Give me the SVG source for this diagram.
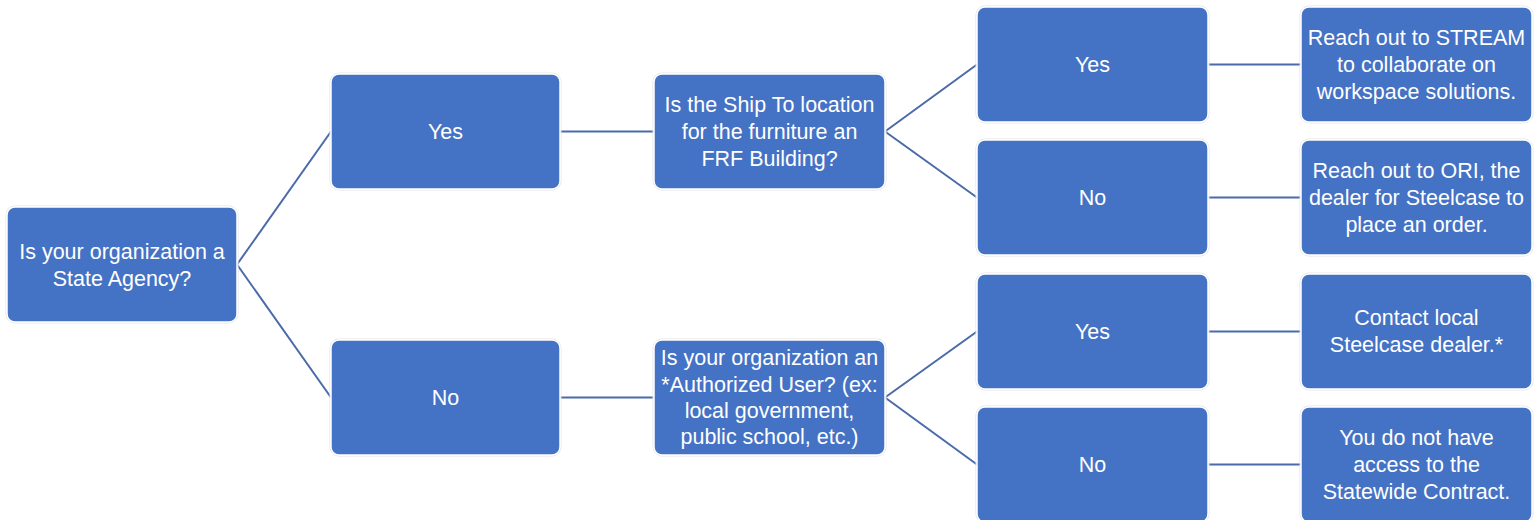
<svg xmlns="http://www.w3.org/2000/svg" width="1536" height="520" viewBox="0 0 1536 520">
<style>
.box{fill:#4472C4;stroke:#ffffff;stroke-width:1.5}
.edge{fill:none;stroke:#e3e3e3;stroke-width:1}
.t{font-family:"Liberation Sans",Arial,sans-serif;font-size:21.5px;fill:#ffffff;text-anchor:middle}
.c{stroke:#4A6AAA;stroke-width:2;fill:none}
</style>
<rect width="1536" height="520" fill="#ffffff"/>
<g id="connectors">
<line class="c" x1="237" y1="264.5" x2="331" y2="131.5"/>
<line class="c" x1="237" y1="264.5" x2="331" y2="397.5"/>
<line class="c" x1="560" y1="131.5" x2="654" y2="131.5"/>
<line class="c" x1="560" y1="397.5" x2="654" y2="397.5"/>
<line class="c" x1="885" y1="131.5" x2="977" y2="64.5"/>
<line class="c" x1="885" y1="131.5" x2="977" y2="197.5"/>
<line class="c" x1="885" y1="397.5" x2="977" y2="331.5"/>
<line class="c" x1="885" y1="397.5" x2="977" y2="464.5"/>
<line class="c" x1="1208" y1="64.5" x2="1301" y2="64.5"/>
<line class="c" x1="1208" y1="197.5" x2="1301" y2="197.5"/>
<line class="c" x1="1208" y1="331.5" x2="1301" y2="331.5"/>
<line class="c" x1="1208" y1="464.5" x2="1301" y2="464.5"/>
</g>
<g id="n-root">
<rect class="edge" x="6" y="206" width="232" height="117" rx="9"/>
<rect class="box" x="7" y="207" width="230" height="115" rx="8"/>
<text class="t" x="122" y="258.5">Is your organization a</text>
<text class="t" x="122" y="285.5">State Agency?</text>
</g>
<g id="n-yes1">
<rect class="edge" x="330" y="73" width="231" height="117" rx="9"/>
<rect class="box" x="331" y="74" width="229" height="115" rx="8"/>
<text class="t" x="445.5" y="139">Yes</text>
</g>
<g id="n-no1">
<rect class="edge" x="330" y="339" width="231" height="117" rx="9"/>
<rect class="box" x="331" y="340" width="229" height="115" rx="8"/>
<text class="t" x="445.5" y="405">No</text>
</g>
<g id="n-q2">
<rect class="edge" x="653" y="73" width="233" height="117" rx="9"/>
<rect class="box" x="654" y="74" width="231" height="115" rx="8"/>
<text class="t" x="769.5" y="111.5">Is the Ship To location</text>
<text class="t" x="769.5" y="138.5">for the furniture an</text>
<text class="t" x="769.5" y="165.5">FRF Building?</text>
</g>
<g id="n-q3">
<rect class="edge" x="653" y="339" width="233" height="117" rx="9"/>
<rect class="box" x="654" y="340" width="231" height="115" rx="8"/>
<text class="t" x="769.5" y="364.5">Is your organization an</text>
<text class="t" x="769.5" y="391.5">*Authorized User? (ex:</text>
<text class="t" x="769.5" y="417.5">local government,</text>
<text class="t" x="769.5" y="443.5">public school, etc.)</text>
</g>
<g id="n-yes2">
<rect class="edge" x="976" y="6" width="233" height="117" rx="9"/>
<rect class="box" x="977" y="7" width="231" height="115" rx="8"/>
<text class="t" x="1092.5" y="72">Yes</text>
</g>
<g id="n-no2">
<rect class="edge" x="976" y="139" width="233" height="117" rx="9"/>
<rect class="box" x="977" y="140" width="231" height="115" rx="8"/>
<text class="t" x="1092.5" y="205">No</text>
</g>
<g id="n-yes3">
<rect class="edge" x="976" y="273" width="233" height="117" rx="9"/>
<rect class="box" x="977" y="274" width="231" height="115" rx="8"/>
<text class="t" x="1092.5" y="339">Yes</text>
</g>
<g id="n-no3">
<rect class="edge" x="976" y="406" width="233" height="117" rx="9"/>
<rect class="box" x="977" y="407" width="231" height="115" rx="8"/>
<text class="t" x="1092.5" y="472">No</text>
</g>
<g id="n-stream">
<rect class="edge" x="1300" y="6" width="233" height="117" rx="9"/>
<rect class="box" x="1301" y="7" width="231" height="115" rx="8"/>
<text class="t" x="1416.5" y="44.5">Reach out to STREAM</text>
<text class="t" x="1416.5" y="71.5">to collaborate on</text>
<text class="t" x="1416.5" y="98.5">workspace solutions.</text>
</g>
<g id="n-ori">
<rect class="edge" x="1300" y="139" width="233" height="117" rx="9"/>
<rect class="box" x="1301" y="140" width="231" height="115" rx="8"/>
<text class="t" x="1416.5" y="177.5">Reach out to ORI, the</text>
<text class="t" x="1416.5" y="204.5">dealer for Steelcase to</text>
<text class="t" x="1416.5" y="231.5">place an order.</text>
</g>
<g id="n-local">
<rect class="edge" x="1300" y="273" width="233" height="117" rx="9"/>
<rect class="box" x="1301" y="274" width="231" height="115" rx="8"/>
<text class="t" x="1416.5" y="324.5">Contact local</text>
<text class="t" x="1416.5" y="351.5">Steelcase dealer.*</text>
</g>
<g id="n-noaccess">
<rect class="edge" x="1300" y="406" width="233" height="117" rx="9"/>
<rect class="box" x="1301" y="407" width="231" height="115" rx="8"/>
<text class="t" x="1416.5" y="444.5">You do not have</text>
<text class="t" x="1416.5" y="471.5">access to the</text>
<text class="t" x="1416.5" y="498.5">Statewide Contract.</text>
</g>
</svg>
